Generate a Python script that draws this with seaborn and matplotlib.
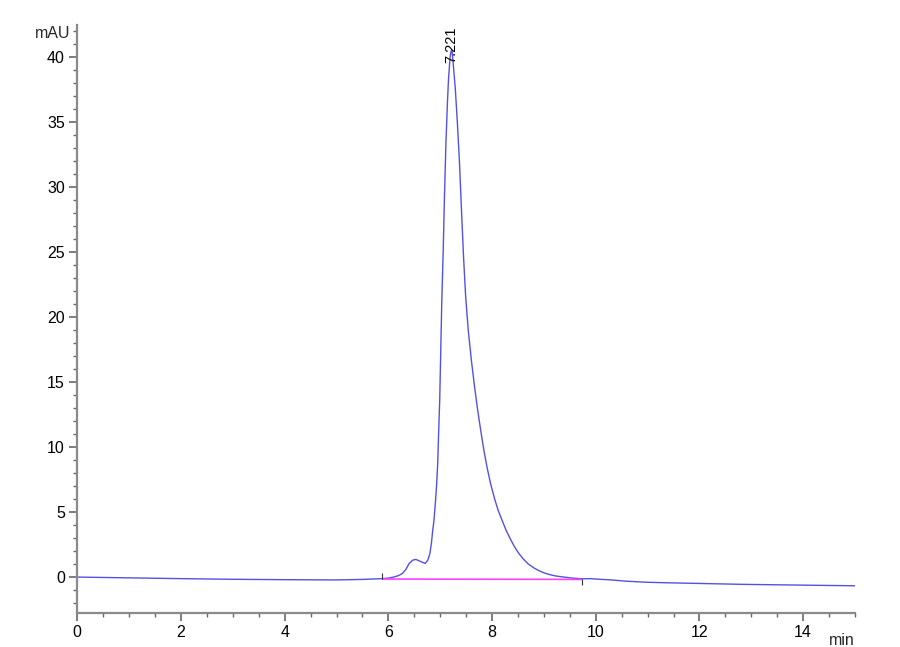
import numpy as np
import pandas as pd
import matplotlib
matplotlib.use("Agg")
import matplotlib.pyplot as plt
from matplotlib.ticker import MultipleLocator
import seaborn as sns

# ---- data ----
time_min = [0.0, 1.0, 2.0, 3.0, 4.0, 5.0, 5.5, 5.88, 6.0, 6.1, 6.2, 6.27, 6.34,
            6.40, 6.47, 6.53, 6.62, 6.71, 6.76, 6.80, 6.83, 6.85, 6.88, 6.91,
            6.93, 6.95, 6.97, 6.99, 7.01, 7.03, 7.06, 7.08, 7.11, 7.14, 7.16,
            7.19, 7.21, 7.22, 7.23, 7.25, 7.29, 7.33, 7.37, 7.41, 7.45, 7.49,
            7.54, 7.60, 7.66, 7.72, 7.78, 7.84, 7.90, 7.97, 8.05, 8.12, 8.19,
            8.27, 8.35, 8.43, 8.51, 8.60, 8.70, 8.80, 8.90, 9.00, 9.10, 9.22,
            9.35, 9.55, 9.73, 9.90, 10.0, 10.3, 10.6, 11.0, 11.5, 12.0, 12.84,
            14.0, 15.0]
signal_mau = [0.0, -0.06, -0.12, -0.17, -0.20, -0.22, -0.18, -0.12, -0.08, 0.0,
              0.12, 0.28, 0.6, 1.05, 1.3, 1.36, 1.2, 1.05, 1.3, 1.8, 2.6, 3.4,
              4.4, 5.9, 7.1, 8.6, 11.2, 13.6, 17.4, 21.2, 25.5, 29.0, 33.4,
              36.6, 38.3, 40.0, 40.45, 40.5, 40.4, 39.5, 37.6, 35.0, 32.0, 28.2,
              24.6, 21.6, 19.0, 16.7, 14.7, 12.9, 11.3, 9.8, 8.5, 7.2, 6.0, 5.1,
              4.4, 3.6, 2.95, 2.35, 1.85, 1.4, 1.0, 0.72, 0.5, 0.33, 0.2, 0.09,
              0.02, -0.08, -0.13, -0.12, -0.15, -0.22, -0.32, -0.40, -0.45,
              -0.49, -0.56, -0.62, -0.67]

peak_time = 7.221
peak_label = "7.221"
integ_time = [5.88, 9.73]
integ_level = [-0.15, -0.18]

x_ticks = [0, 2, 4, 6, 8, 10, 12, 14]
y_ticks = [0, 5, 10, 15, 20, 25, 30, 35, 40]

df = pd.DataFrame({"t": time_min, "mAU": signal_mau})
base = pd.DataFrame({"t": integ_time, "mAU": integ_level})

sns.set_style("ticks")
plt.rcParams["font.family"] = ["Liberation Sans", "DejaVu Sans"]

fig = plt.figure(figsize=(9.0, 6.47), dpi=100)
ax = fig.add_axes([0.0859, 0.053, 0.8641, 0.9084])

sns.lineplot(data=df, x="t", y="mAU", ax=ax, color="#5252e2", linewidth=1.0,
             estimator=None, sort=False)
sns.lineplot(data=base, x="t", y="mAU", ax=ax, color="#ff40ff", linewidth=1.2,
             estimator=None, sort=False)
# integration start/end tick marks
ax.vlines(integ_time[0], integ_level[0], integ_level[0] + 0.45, color="#333333", linewidth=0.8)
ax.vlines(integ_time[1], integ_level[1] - 0.45, integ_level[1], color="#333333", linewidth=0.8)

ax.text(peak_time, 39.5, peak_label, rotation=90, ha="center", va="bottom",
        fontsize=10.5, color="black")

ax.set_xlim(0, 15)
ax.set_ylim(-2.74, 42.46)
ax.set_xticks(x_ticks)
ax.set_yticks(y_ticks)
ax.xaxis.set_minor_locator(MultipleLocator(0.5))
ax.yaxis.set_minor_locator(MultipleLocator(1))
ax.set_xlabel("")
ax.set_ylabel("")

for s in ["top", "right"]:
    ax.spines[s].set_visible(False)
for s in ["left", "bottom"]:
    ax.spines[s].set_color("#8a8a8a")
    ax.spines[s].set_linewidth(1.6)

ax.tick_params(axis="both", which="major", length=6, width=1.2, color="#666666",
               labelsize=11.5, labelcolor="black", pad=3)
ax.tick_params(axis="both", which="minor", length=3, width=1.0, color="#666666")

ax.text(-0.0085, 41.8, "mAU", transform=ax.get_yaxis_transform(), ha="right",
        va="center", fontsize=11.5)
ax.text(15.0, -0.035, "min", transform=ax.get_xaxis_transform(), ha="right",
        va="top", fontsize=11.5)

fig.savefig("out.png", dpi=100)
